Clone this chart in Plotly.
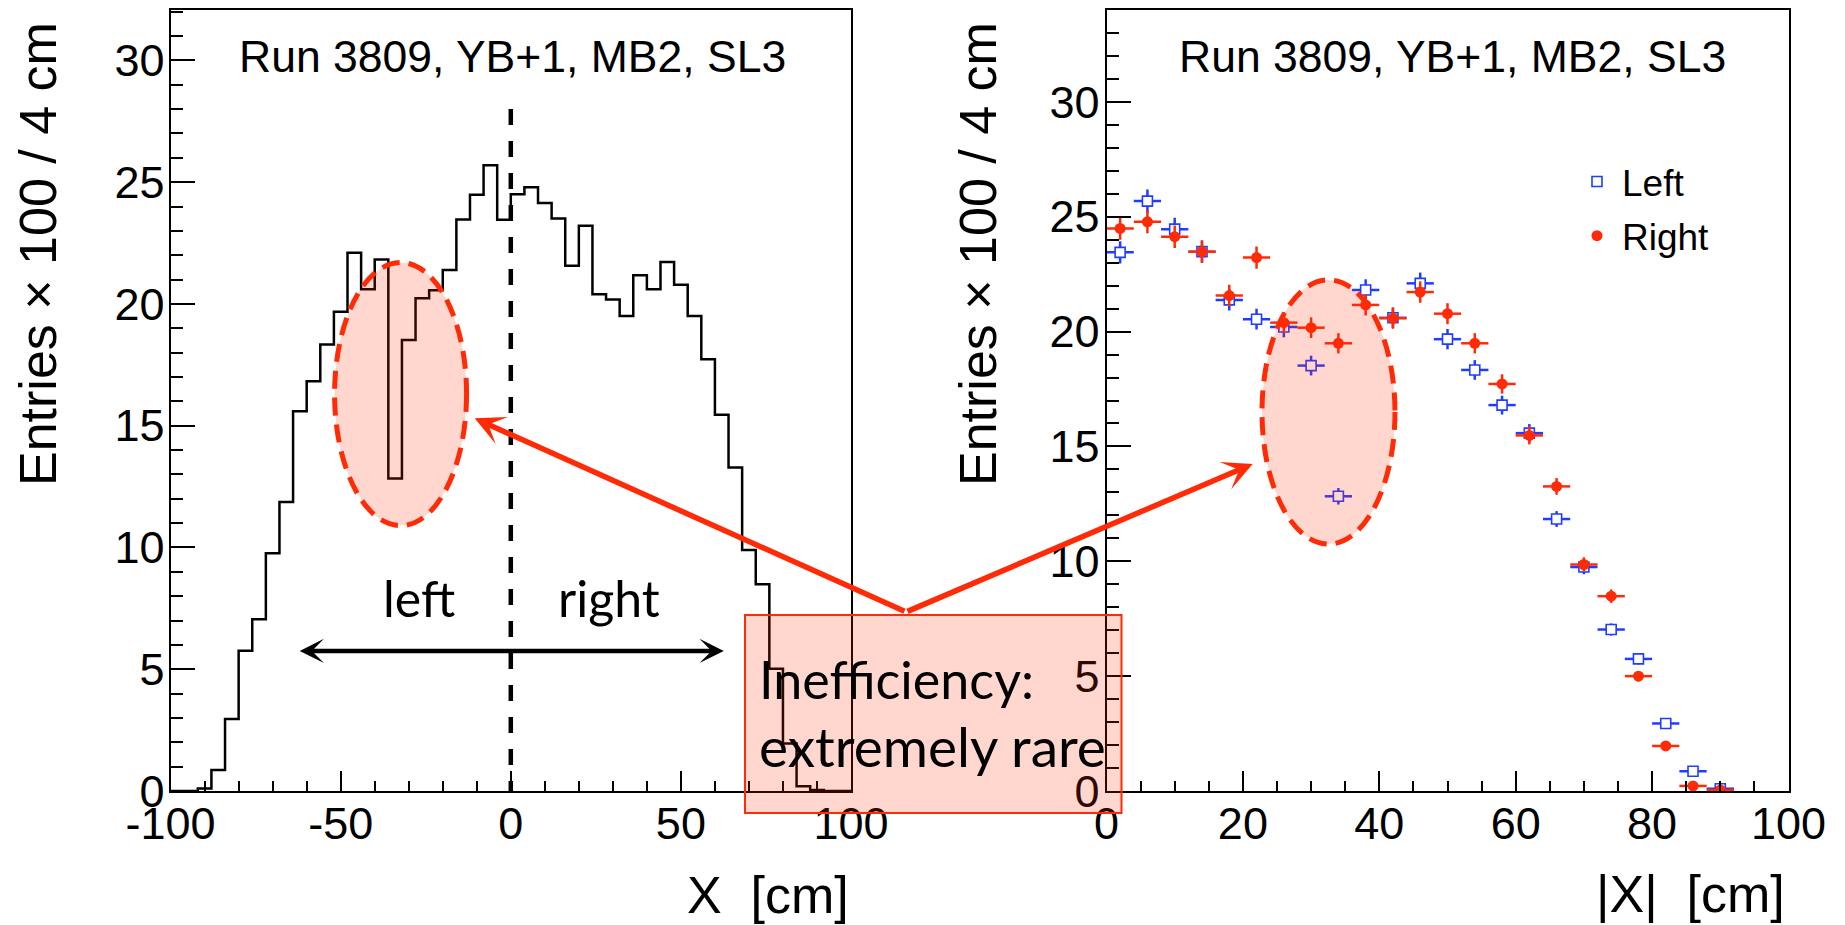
import numpy as np
import plotly.graph_objects as go

# ---------------------------------------------------------------------------
# Data: hit position along the chamber, 4 cm bins, entries in units of 100
# ---------------------------------------------------------------------------
x_edges = list(range(-100, 101, 4))
entries = [
    0.0, 0.0, 0.1, 0.86, 2.96, 5.76, 7.05, 9.76, 11.87, 15.59,
    16.83, 18.33, 19.68, 22.1, 20.6, 21.82, 12.83, 18.52, 20.23, 20.56,
    21.39, 23.47, 24.48, 25.7, 23.46, 24.5, 24.79, 24.15, 23.51, 21.57,
    23.21, 20.4, 20.18, 19.5, 21.18, 20.6, 21.72, 20.79, 19.5, 17.73,
    15.45, 13.28, 9.9, 8.49, 5.02, 1.95, 0.2, 0.04, 0.0, 0.0,
]
x_tickvals = [-100, -50, 0, 50, 100]
x_ticktext = ["-100", "-50", "0", "50", "100"]

# Folded distribution: |X| bin centres for the left and right halves
abs_x = [2, 6, 10, 14, 18, 22, 26, 30, 34, 38, 42, 46,
         50, 54, 58, 62, 66, 70, 74, 78, 82, 86, 90]
left_entries = [23.45, 25.68, 24.46, 23.48, 21.38, 20.54, 20.2, 18.52,
                12.83, 21.81, 20.6, 22.1, 19.67, 18.33, 16.8, 15.58,
                11.84, 9.75, 7.03, 5.75, 2.94, 0.86, 0.1]
right_entries = [24.49, 24.78, 24.13, 23.48, 21.57, 23.22, 20.39, 20.17,
                 19.49, 21.16, 20.58, 21.72, 20.78, 19.49, 17.72, 15.48,
                 13.26, 9.86, 8.48, 5.0, 1.96, 0.22, 0.04]
half_bin = 2  # cm, horizontal error bar = half of the 4 cm bin

run_label = "Run 3809, YB+1, MB2, SL3"
y_title = "Entries × 100 / 4 cm"

# ---------------------------------------------------------------------------
# Style
# ---------------------------------------------------------------------------
W, H = 1845, 925
BLUE = "#1f3dff"
RED = "#ff2a06"
PINK = "rgba(255,40,0,0.19)"
HELV = "Liberation Sans, Arial, Helvetica, sans-serif"
GILL = "Lato, Open Sans, sans-serif"


def px(x):
    return x / W


def py(y):
    return 1 - y / H


def poisson(vals):
    # statistical uncertainty of counts stored in hundreds
    return [float(np.sqrt(v * 100.0) / 100.0) for v in vals]


fig = go.Figure()

# Left pad: step histogram
fig.add_trace(go.Scatter(
    x=x_edges, y=entries + [entries[-1]],
    mode="lines", line=dict(shape="hv", color="black", width=2.5),
    xaxis="x", yaxis="y", showlegend=False, hoverinfo="skip",
))

# Right pad: folded halves with error bars
fig.add_trace(go.Scatter(
    x=abs_x, y=left_entries, name="Left", mode="markers",
    xaxis="x2", yaxis="y2", legendgroup="l",
    marker=dict(symbol="square", size=10, color="white",
                line=dict(color=BLUE, width=1.6)),
    error_x=dict(type="constant", value=half_bin, color=BLUE,
                 thickness=2.5, width=0),
    error_y=dict(type="data", array=poisson(left_entries), color=BLUE,
                 thickness=2.5, width=0),
))
fig.add_trace(go.Scatter(
    x=abs_x, y=right_entries, name="Right", mode="markers",
    xaxis="x2", yaxis="y2", legendgroup="r",
    marker=dict(symbol="circle", size=11, color=RED, line=dict(width=0)),
    error_x=dict(type="constant", value=half_bin, color=RED,
                 thickness=2.5, width=0),
    error_y=dict(type="data", array=poisson(right_entries), color=RED,
                 thickness=2.5, width=0),
))

axis_common = dict(
    showline=True, mirror=True, linecolor="black", linewidth=2,
    showgrid=False, zeroline=False, ticks="inside", tickcolor="black",
    tickwidth=1.5, tickfont=dict(family=HELV, size=45, color="black"),
    automargin=False,
)

fig.update_layout(
    width=W, height=H,
    margin=dict(l=0, r=0, t=0, b=0, pad=0, autoexpand=False),
    paper_bgcolor="white", plot_bgcolor="white",
    xaxis=dict(axis_common, domain=[px(170.6), px(851)], range=[-100, 100],
               tickmode="array", tickvals=x_tickvals, ticktext=x_ticktext,
               ticklen=20, anchor="y", ticklabelstandoff=-8,
               minor=dict(ticks="inside", tick0=-100, dtick=10, ticklen=10,
                          tickwidth=1.5, tickcolor="black")),
    yaxis=dict(axis_common, domain=[py(791), py(10)], range=[0, 32.07],
               tick0=0, dtick=5, ticklen=24, anchor="x",
               ticklabelstandoff=-5,
               minor=dict(ticks="inside", tick0=0, dtick=1, ticklen=12,
                          tickwidth=1.5, tickcolor="black")),
    xaxis2=dict(axis_common, domain=[px(1106.5), px(1788.5)], range=[0, 100],
                tick0=0, dtick=20, ticklen=20, anchor="y2",
                ticklabelstandoff=-8,
                minor=dict(ticks="inside", tick0=0, dtick=5, ticklen=10,
                           tickwidth=1.5, tickcolor="black")),
    yaxis2=dict(axis_common, domain=[py(791), py(10)], range=[0, 34.0],
                tick0=0, dtick=5, ticklen=24, anchor="x2",
                ticklabelstandoff=-4,
                minor=dict(ticks="inside", tick0=0, dtick=1, ticklen=12,
                           tickwidth=1.5, tickcolor="black")),
    legend=dict(x=px(1572), y=py(151), xanchor="left", yanchor="top",
                font=dict(family=HELV, size=37, color="black"),
                bgcolor="rgba(0,0,0,0)", borderwidth=0,
                traceorder="grouped", tracegroupgap=3, itemwidth=40),
    showlegend=True,
)

shapes = [
    # boundary between the two halves
    dict(type="line", xref="x", yref="y", x0=0, y0=28.0, x1=0, y1=0,
         line=dict(color="black", width=4.5, dash="16px,16px"), layer="above"),
    # highlighted dip, left pad
    dict(type="circle", xref="x", yref="y", x0=-51.8, x1=-13.0,
         y0=10.9, y1=21.7, fillcolor=PINK,
         line=dict(color=RED, width=5, dash="18px,9px"), layer="above"),
    # highlighted dip, right pad
    dict(type="circle", xref="x2", yref="y2", x0=22.8, x1=42.3,
         y0=10.75, y1=22.25, fillcolor=PINK,
         line=dict(color=RED, width=5, dash="18px,9px"), layer="above"),
    # note box
    dict(type="rect", xref="paper", yref="paper", x0=px(745), x1=px(1121.5),
         y0=py(813), y1=py(615), fillcolor=PINK,
         line=dict(color=RED, width=2), layer="above"),
]
fig.update_layout(shapes=shapes)

annotations = [
    dict(text=run_label, x=px(512), y=py(56), xref="paper", yref="paper",
         showarrow=False, xanchor="center", yanchor="middle",
         font=dict(family=HELV, size=44.5, color="black")),
    dict(text=run_label, x=px(1452), y=py(56), xref="paper", yref="paper",
         showarrow=False, xanchor="center", yanchor="middle",
         font=dict(family=HELV, size=44.5, color="black")),
    dict(text=y_title, x=px(38), y=py(254), xref="paper", yref="paper",
         textangle=-90, showarrow=False, xanchor="center", yanchor="middle",
         font=dict(family=HELV, size=52, color="black")),
    dict(text=y_title, x=px(978), y=py(254), xref="paper", yref="paper",
         textangle=-90, showarrow=False, xanchor="center", yanchor="middle",
         font=dict(family=HELV, size=52, color="black")),
    dict(text="X\u00a0\u00a0[cm]", x=px(851), y=py(895), xref="paper",
         yref="paper", showarrow=False, xanchor="right", yanchor="middle",
         font=dict(family=HELV, size=52, color="black")),
    dict(text="|X|\u00a0\u00a0[cm]", x=px(1787), y=py(894), xref="paper",
         yref="paper", showarrow=False, xanchor="right", yanchor="middle",
         font=dict(family=HELV, size=52, color="black")),
    # left / right labels with a double-headed arrow
    dict(text="left", x=px(419), y=py(598), xref="paper", yref="paper",
         showarrow=False, xanchor="center", yanchor="middle",
         font=dict(family=GILL, size=50, color="black")),
    dict(text="right", x=px(609), y=py(598), xref="paper", yref="paper",
         showarrow=False, xanchor="center", yanchor="middle",
         font=dict(family=GILL, size=50, color="black")),
    dict(text="", x=62.6, y=5.75, ax=-62.5, ay=5.75, xref="x", yref="y",
         axref="x", ayref="y", showarrow=True, arrowside="end+start",
         arrowhead=3, startarrowhead=3, arrowsize=0.9, startarrowsize=0.9,
         arrowwidth=4.5, arrowcolor="black"),
    # note text
    dict(text="Inefficiency:", x=px(757), y=py(679), xref="paper",
         yref="paper", showarrow=False, xanchor="left", yanchor="middle",
         font=dict(family=GILL, size=52, color="black")),
    dict(text="extremely rare", x=px(757), y=py(746), xref="paper",
         yref="paper", showarrow=False, xanchor="left", yanchor="middle",
         font=dict(family=GILL, size=55, color="black")),
    # pointers from the note to the two dips
    dict(text="", x=px(474.7), y=py(418.3), xref="paper", yref="paper",
         ax=906 - 474.7, ay=612 - 418.3, showarrow=True, arrowhead=3,
         arrowsize=0.9, arrowwidth=5.5, arrowcolor=RED),
    dict(text="", x=px(1252.7), y=py(464), xref="paper", yref="paper",
         ax=906 - 1252.7, ay=612 - 464, showarrow=True, arrowhead=3,
         arrowsize=0.9, arrowwidth=5.5, arrowcolor=RED),
]
fig.update_layout(annotations=annotations)

fig.write_html("out.html")
